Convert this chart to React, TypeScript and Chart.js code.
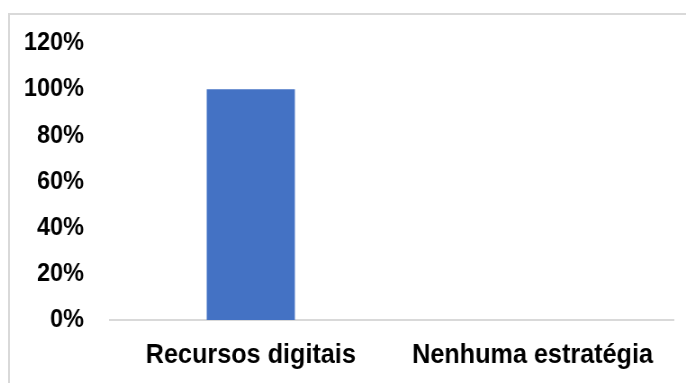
import React, { useEffect, useRef } from "react";
import { Chart, registerables } from "chart.js";

Chart.register(...registerables);

const categories = ["Recursos digitais", "Nenhuma estratégia"];
const shares = [100, 0];
const yMax = 120;
const yStep = 20;

// Narrow bold look: the chart is drawn wide and squeezed horizontally.
const CANVAS_W = 751;
const CANVAS_H = 368;
const FONT = "'Liberation Sans', Arial, sans-serif";

export default function App() {
  const canvasRef = useRef<HTMLCanvasElement | null>(null);

  useEffect(() => {
    const canvas = canvasRef.current;
    if (!canvas) return;
    const chart = new Chart(canvas, {
      type: "bar",
      data: {
        labels: categories,
        datasets: [
          {
            data: shares,
            backgroundColor: "#4472C4",
            borderWidth: 0,
            categoryPercentage: 1,
            barPercentage: 0.313,
          },
        ],
      },
      options: {
        animation: false,
        responsive: true,
        maintainAspectRatio: false,
        layout: { padding: { top: 28, right: 14, bottom: 13, left: 0 } },
        plugins: {
          legend: { display: false },
          tooltip: { enabled: false },
        },
        scales: {
          x: {
            grid: { display: false, drawTicks: false },
            border: { display: true, color: "#d9d9d9", width: 2 },
            afterFit: (scale: any) => {
              scale.height = 50;
            },
            ticks: {
              color: "#000000",
              padding: 18,
              maxRotation: 0,
              autoSkip: false,
              font: { family: FONT, size: 28, weight: "bold" },
            },
          },
          y: {
            min: 0,
            max: yMax,
            grid: { display: false, drawTicks: false },
            border: { display: false },
            afterFit: (scale: any) => {
              scale.width = 111;
              scale.paddingTop = 0;
              scale.paddingBottom = 0;
            },
            ticks: {
              stepSize: yStep,
              color: "#000000",
              padding: 29,
              font: { family: FONT, size: 26, weight: "bold" },
              callback: (v: any) => `${v}%`,
            },
          },
        },
      },
    });
    return () => chart.destroy();
  }, []);

  return (
    <div
      style={{
        position: "fixed",
        left: 8,
        top: 13,
        width: 700,
        height: 400,
        borderTop: "2px solid #d9d9d9",
        borderLeft: "2px solid #d9d9d9",
        background: "#ffffff",
        overflow: "hidden",
      }}
    >
      <div
        style={{
          position: "relative",
          width: CANVAS_W,
          height: CANVAS_H,
          transform: `scaleX(${676 / CANVAS_W})`,
          transformOrigin: "0 0",
        }}
      >
        <canvas ref={canvasRef} />
      </div>
    </div>
  );
}
